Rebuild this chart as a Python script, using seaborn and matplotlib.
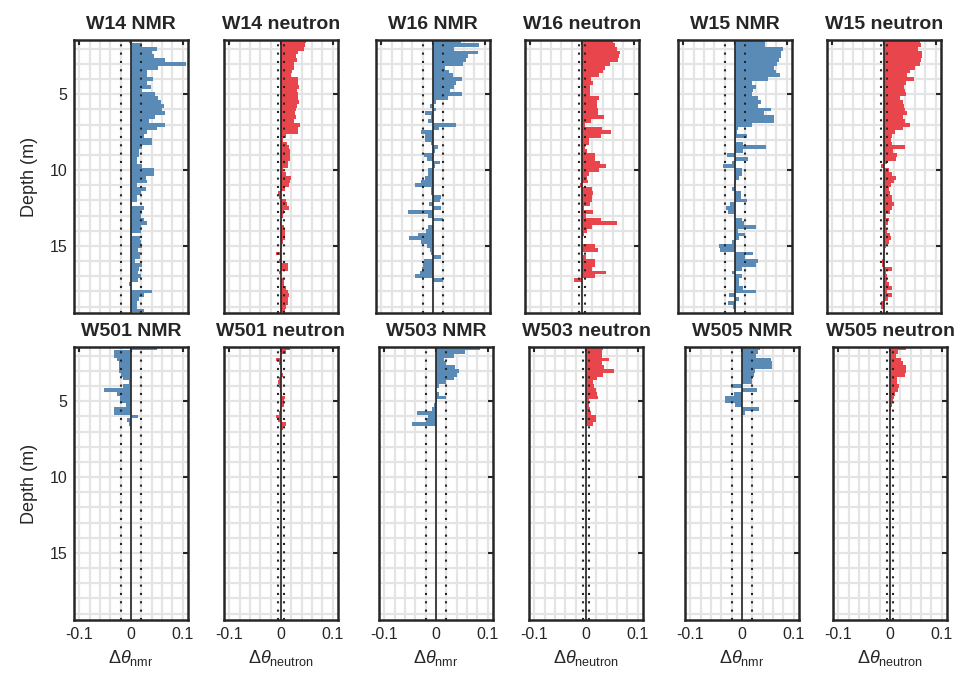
import numpy as np
import pandas as pd
import matplotlib
matplotlib.use("Agg")
import matplotlib.pyplot as plt
from matplotlib.ticker import MultipleLocator
import seaborn as sns

# Sampling of the logs (m) and start depth
DZ = 0.25
Z0 = 1.5

# Water-content change per depth interval (top row: full-length holes)
W14_NMR = [
    -0.003, 0.022, 0.050, 0.040, 0.045, 0.066, 0.107, 0.053,
    0.030, 0.030, 0.042, 0.030, 0.038, 0.022, 0.047, 0.053,
    0.058, 0.063, 0.060, 0.066, 0.047, 0.034, 0.066, 0.050,
    0.030, 0.025, 0.040, 0.040, 0.022, 0.016, 0.016, 0.011,
    0.011, 0.022, 0.044, 0.044, 0.028, 0.030, 0.011, 0.028,
    0.019, 0.011, 0.011, 0.002, 0.025, 0.022, 0.019, 0.025,
    0.030, 0.019, 0.019, 0.002, 0.017, 0.020, 0.021, 0.013,
    0.017, 0.017, 0.008, 0.022, 0.016, 0.013, 0.019, 0.013,
    -0.003, 0.000, 0.040, 0.025, 0.016, 0.011, 0.011, 0.026,
]
W14_NEUTRON = [
    0.048, 0.047, 0.045, 0.032, 0.029, 0.030, 0.026, 0.025,
    0.021, 0.019, 0.032, 0.033, 0.034, 0.030, 0.032, 0.033,
    0.034, 0.030, 0.028, 0.027, 0.028, 0.026, 0.036, 0.033,
    0.032, 0.009, 0.003, 0.011, 0.016, 0.017, 0.018, 0.017,
    0.014, 0.014, 0.003, 0.010, 0.019, 0.017, 0.016, 0.007,
    -0.006, -0.003, 0.009, 0.011, 0.015, 0.005, 0.003, 0.001,
    -0.001, 0.005, 0.007, 0.008, 0.007, 0.004, 0.001, -0.001,
    -0.009, -0.001, -0.004, 0.013, 0.013, -0.004, 0.000, 0.005,
    0.005, 0.010, 0.013, 0.015, 0.013, 0.013, 0.010, 0.007,
]
W16_NMR = [
    0.054, 0.089, 0.041, 0.087, 0.067, 0.064, 0.057, 0.023,
    0.030, 0.038, 0.055, 0.045, 0.040, 0.032, 0.055, 0.029,
    0.005, -0.005, 0.006, -0.015, -0.003, -0.010, 0.045, 0.011,
    -0.023, -0.016, -0.016, -0.003, 0.009, 0.004, -0.018, -0.012,
    0.013, 0.004, -0.010, -0.010, -0.015, -0.023, -0.034, -0.004,
    -0.004, 0.016, 0.013, -0.007, 0.015, -0.048, -0.009, 0.019,
    0.000, -0.010, -0.013, -0.028, -0.047, -0.023, -0.012, -0.005,
    -0.003, 0.016, -0.018, -0.020, -0.021, -0.025, -0.035, 0.020,
]
W16_NEUTRON = [
    0.060, 0.063, 0.068, 0.073, 0.072, 0.070, 0.054, 0.045,
    0.040, 0.032, 0.018, 0.021, 0.015, 0.015, 0.016, 0.032,
    0.029, 0.028, 0.030, 0.030, 0.043, 0.018, 0.005, 0.038,
    0.055, 0.036, 0.013, 0.013, 0.005, 0.010, 0.025, 0.025,
    0.035, 0.047, 0.033, 0.014, 0.010, 0.011, -0.004, 0.019,
    0.022, 0.020, 0.020, 0.015, 0.004, 0.021, 0.007, 0.036,
    0.067, 0.020, 0.009, 0.004, 0.001, 0.000, 0.026, 0.030,
    -0.002, 0.008, 0.026, 0.025, 0.019, 0.047, 0.026, -0.015,
]
W15_NMR = [
    0.057, 0.057, 0.092, 0.089, 0.089, 0.085, 0.082, 0.075,
    0.080, 0.086, 0.064, 0.033, 0.041, 0.034, 0.033, 0.045,
    0.051, 0.045, 0.070, 0.056, 0.076, 0.076, 0.033, 0.006,
    0.004, 0.023, 0.001, 0.016, 0.060, 0.016, -0.016, 0.026,
    -0.006, -0.023, 0.013, 0.013, 0.008, 0.001, -0.002, -0.005,
    0.012, 0.012, 0.023, -0.009, -0.018, -0.013, -0.002, 0.014,
    0.017, 0.041, 0.006, 0.020, 0.008, -0.006, -0.030, -0.028,
    0.035, 0.020, 0.045, 0.040, 0.013, -0.006, 0.013, 0.008,
    0.008, 0.015, 0.040, -0.011, 0.007, -0.014, -0.003,
]
W15_NEUTRON = [
    0.069, 0.071, 0.066, 0.073, 0.073, 0.072, 0.070, 0.059,
    0.050, 0.044, 0.057, 0.042, 0.039, 0.040, 0.042, 0.031,
    0.037, 0.039, 0.040, 0.045, 0.037, 0.040, 0.050, 0.037,
    0.021, 0.016, 0.014, 0.016, 0.040, 0.018, 0.025, 0.023,
    0.006, -0.005, 0.010, 0.015, 0.023, 0.020, 0.014, 0.010,
    0.012, 0.015, 0.015, 0.019, 0.016, 0.012, 0.004, 0.010,
    0.008, 0.004, 0.006, 0.012, 0.013, 0.010, 0.004, 0.001,
    -0.001, -0.002, -0.004, -0.003, 0.016, 0.003, 0.006, 0.006,
    0.010, 0.016, 0.005, 0.016, 0.008, -0.005, -0.005,
]

# Bottom row: shallow holes
W501_NMR = [
    0.050, -0.033, -0.032, -0.027, -0.024, -0.023, -0.023, -0.019,
    -0.016, -0.004, -0.015, -0.053, -0.027, -0.022, -0.022, -0.010,
    -0.033, -0.032, 0.013, -0.008, -0.003, -0.002,
]
W501_NEUTRON = [
    0.018, 0.009, -0.002, -0.010, -0.004, 0.001, 0.002, 0.003,
    -0.003, -0.006, -0.004, -0.001, 0.002, 0.007, 0.006, 0.005,
    -0.001, -0.003, -0.009, -0.005, 0.009, 0.004,
]
W503_NMR = [
    0.084, 0.055, 0.035, 0.015, 0.020, 0.037, 0.045, 0.040,
    0.035, 0.020, 0.006, -0.002, 0.006, 0.020, 0.001, -0.004,
    -0.008, -0.036, -0.016, -0.019, -0.047,
]
W503_NEUTRON = [
    0.032, 0.031, 0.030, 0.045, 0.030, 0.035, 0.054, 0.033,
    0.021, 0.013, 0.015, 0.020, 0.021, 0.023, 0.005, 0.005,
    0.007, 0.009, 0.020, 0.020, 0.013,
]
W505_NMR = [
    0.034, 0.030, 0.027, 0.056, 0.057, 0.057, 0.025, 0.024,
    0.020, 0.020, -0.021, 0.028, -0.016, -0.033, -0.033, -0.013,
    0.032, 0.006,
]
W505_NEUTRON = [
    0.030, 0.016, 0.012, 0.022, 0.025, 0.030, 0.031, 0.028,
    0.013, 0.014, 0.018, 0.015, 0.010, 0.007, 0.005, 0.004,
    0.002,
]

TITLES = [
    ["W14 NMR", "W14 neutron", "W16 NMR", "W16 neutron", "W15 NMR", "W15 neutron"],
    ["W501 NMR", "W501 neutron", "W503 NMR", "W503 neutron", "W505 NMR", "W505 neutron"],
]
SERIES = [
    [W14_NMR, W14_NEUTRON, W16_NMR, W16_NEUTRON, W15_NMR, W15_NEUTRON],
    [W501_NMR, W501_NEUTRON, W503_NMR, W503_NEUTRON, W505_NMR, W505_NEUTRON],
]
# Uncertainty bounds drawn as dotted lines
NMR_BOUND = 0.02
NEUTRON_BOUND = 0.006

XTICKS = [-0.1, 0, 0.1]
YTICKS = [5, 10, 15]
XLIM = (-0.11, 0.11)
YLIM = (19.42, 1.42)

NMR_COLOR = "#5a8bb6"
NEUTRON_COLOR = "#e8464c"
DARK = "#262626"

sns.set_style("white")
plt.rcParams["font.family"] = ["Liberation Sans", "DejaVu Sans"]
plt.rcParams["mathtext.fontset"] = "custom"
plt.rcParams["mathtext.rm"] = "Liberation Sans"
plt.rcParams["mathtext.it"] = "Liberation Sans:italic"
plt.rcParams["axes.unicode_minus"] = False

fig = plt.figure(figsize=(9.6, 6.88), dpi=100)
W, H = 960.0, 688.0

# panel placement in pixels: left edges per row, top/bottom of each row
LEFTS = [[74, 224, 376, 525, 678, 827], [74, 224, 379, 529, 685, 833]]
ROW_TOP = [40, 347]
AX_W, AX_H = 114, 273

for r in range(2):
    for c in range(6):
        vals = SERIES[r][c]
        title = TITLES[r][c]
        is_nmr = "NMR" in title
        color = NMR_COLOR if is_nmr else NEUTRON_COLOR
        bound = NMR_BOUND if is_nmr else NEUTRON_BOUND

        left = LEFTS[r][c]
        top = ROW_TOP[r]
        ax = fig.add_axes([left / W, 1 - (top + AX_H) / H, AX_W / W, AX_H / H])

        depth = Z0 + DZ * np.arange(len(vals))
        df = pd.DataFrame({"depth": depth, "dtheta": vals})
        # one interval per sample: the weighted histogram gives contiguous bars
        lo = depth[0] - DZ / 2
        hi = depth[-1] + DZ / 2

        ax.set_axisbelow(True)
        sns.histplot(data=df, y="depth", weights="dtheta", binwidth=DZ,
                     binrange=(lo, hi), stat="count", element="bars",
                     fill=True, color=color, alpha=1, linewidth=0,
                     antialiased=False, ax=ax)

        ax.axvline(0, color=DARK, lw=1.2, zorder=4)
        for b in (-bound, bound):
            ax.axvline(b, color=DARK, lw=1.5, ls=(0, (1, 3)), zorder=4)

        ax.set_xlim(*XLIM)
        ax.set_ylim(*YLIM)

        ax.set_xticks(XTICKS)
        ax.set_yticks(YTICKS)
        ax.xaxis.set_minor_locator(MultipleLocator(0.02))
        ax.yaxis.set_minor_locator(MultipleLocator(1))
        ax.grid(which="both", color="#e4e4e4", lw=1.6)
        ax.tick_params(which="minor", length=0)
        ax.tick_params(which="major", direction="in", length=3.5, width=1.5,
                       color=DARK, top=True, right=True, labelsize=11.5,
                       labelcolor=DARK, pad=5)

        if r == 1:
            ax.set_xticklabels([f"{t:g}" for t in XTICKS])
            sub = "nmr" if is_nmr else "neutron"
            ax.set_xlabel(r"$\Delta\theta_{\mathrm{" + sub + "}}$",
                          fontsize=13, color=DARK, labelpad=4)
        else:
            ax.set_xticklabels([])
            ax.set_xlabel("")
        if c == 0:
            ax.set_yticklabels([f"{t:g}" for t in YTICKS])
            ax.set_ylabel("Depth (m)", fontsize=13, color=DARK, labelpad=8)
        else:
            ax.set_yticklabels([])
            ax.set_ylabel("")

        for s in ax.spines.values():
            s.set_visible(True)
            s.set_color(DARK)
            s.set_linewidth(1.8)

        ax.set_title(title, fontsize=14, fontweight="bold", color=DARK, pad=8)

fig.savefig("out.png", dpi=100, facecolor="white")
